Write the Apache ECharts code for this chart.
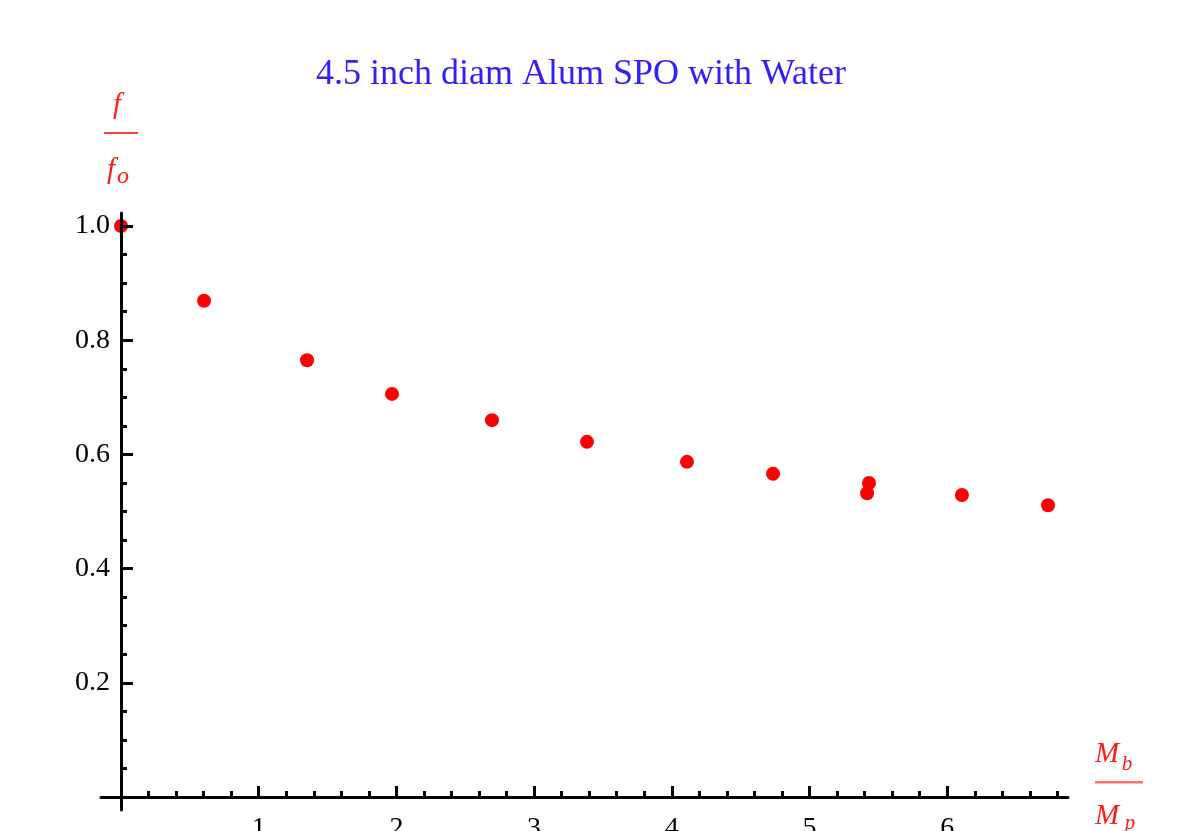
<!DOCTYPE html>
<html>
<head>
<meta charset="utf-8">
<script src="https://cdn.jsdelivr.net/npm/echarts@6/dist/echarts.min.js"></script>
<style>
  html, body { margin: 0; padding: 0; background: #fff; }
  #main { width: 1199px; height: 831px; }
</style>
</head>
<body>
<div id="main"></div>
<script>
// data: mass ratio Mb/Mp and frequency ratio f/fo
var massRatio = [0.0, 0.603, 1.351, 1.968, 2.694, 3.384, 4.110, 4.735, 5.432, 5.418, 6.107, 6.732];
var freqRatio = [1.0, 0.869, 0.765, 0.706, 0.660, 0.622, 0.587, 0.566, 0.550, 0.532, 0.529, 0.511];

// axis ticks
var xMajor = [1, 2, 3, 4, 5, 6];
var xMinor = [0.2, 0.4, 0.6, 0.8, 1.2, 1.4, 1.6, 1.8, 2.2, 2.4, 2.6, 2.8, 3.2, 3.4, 3.6, 3.8,
              4.2, 4.4, 4.6, 4.8, 5.2, 5.4, 5.6, 5.8, 6.2, 6.4, 6.6, 6.8];
var yMajor = [0.2, 0.4, 0.6, 0.8, 1.0];
var yMinor = [0.05, 0.1, 0.15, 0.25, 0.3, 0.35, 0.45, 0.5, 0.55, 0.65, 0.7, 0.75, 0.85, 0.9, 0.95];

var titleText = '4.5 inch diam Alum SPO with Water';

var serif = '"Liberation Serif", "Times New Roman", serif';
var red = '#ff1a1a';

var myChart = echarts.init(document.getElementById('main'));

var points = massRatio.map(function (x, i) { return [x, freqRatio[i]]; });

var xRange = { min: -0.1452, max: 6.877 };
var yRange = { min: -0.0228, max: 1.0228 };

function xAxisBase(ticks, len, withLine, withLabels) {
    return {
        type: 'value',
        min: xRange.min,
        max: xRange.max,
        position: 'bottom',
        z: 5,
        axisLine: {
            show: withLine,
            onZero: true,
            onZeroAxisIndex: 0,
            lineStyle: { color: '#000', width: 3 }
        },
        axisTick: {
            show: true,
            inside: true,
            length: len,
            customValues: ticks,
            lineStyle: { color: '#000', width: 3 }
        },
        axisLabel: {
            show: withLabels,
            customValues: ticks,
            margin: 5,
            color: '#000',
            fontFamily: serif,
            fontSize: 28,
            formatter: function (v) { return String(Math.round(v)); }
        },
        splitLine: { show: false }
    };
}

function yAxisBase(ticks, len, withLine, withLabels) {
    return {
        type: 'value',
        min: yRange.min,
        max: yRange.max,
        position: 'left',
        z: 5,
        axisLine: {
            show: withLine,
            onZero: true,
            onZeroAxisIndex: 0,
            lineStyle: { color: '#000', width: 3 }
        },
        axisTick: {
            show: true,
            inside: true,
            length: len,
            customValues: ticks,
            lineStyle: { color: '#000', width: 3 }
        },
        axisLabel: {
            show: withLabels,
            customValues: ticks,
            margin: -9,
            color: '#000',
            fontFamily: serif,
            fontSize: 28,
            padding: [0, 0, 6, 0],
            formatter: function (v) { return v.toFixed(1); }
        },
        splitLine: { show: false }
    };
}

var option = {
    animation: false,
    backgroundColor: '#fff',
    grid: {
        left: 101,
        top: 213,
        width: 967,
        height: 597,
        containLabel: false,
        outerBoundsMode: 'none'
    },
    xAxis: [
        xAxisBase(xMajor, 11, true, true),
        xAxisBase(xMinor, 6, false, false)
    ],
    yAxis: [
        yAxisBase(yMajor, 12, true, true),
        yAxisBase(yMinor, 6, false, false)
    ],
    graphic: [
        // title
        { type: 'text', x: 581, y: 75, style: { text: titleText, fill: '#3020ff', font: '36px ' + serif, textAlign: 'center', textVerticalAlign: 'middle' } },
        // y name  f / f_o
        { type: 'text', x: 117, y: 105, style: { text: 'f', fill: red, font: 'italic 29px ' + serif, textAlign: 'center', textVerticalAlign: 'middle' } },
        { type: 'rect', shape: { x: 104, y: 132, width: 34, height: 2 }, style: { fill: '#ff4040' } },
        { type: 'text', x: 111, y: 170, style: { text: 'f', fill: red, font: 'italic 29px ' + serif, textAlign: 'center', textVerticalAlign: 'middle' } },
        { type: 'text', x: 123, y: 177, style: { text: 'o', fill: red, font: 'italic 24px ' + serif, textAlign: 'center', textVerticalAlign: 'middle' } },
        // x name  M_b / M_p
        { type: 'text', x: 1107, y: 754, style: { text: 'M', fill: red, font: 'italic 29px ' + serif, textAlign: 'center', textVerticalAlign: 'middle' } },
        { type: 'text', x: 1127, y: 764, style: { text: 'b', fill: red, font: 'italic 21px ' + serif, textAlign: 'center', textVerticalAlign: 'middle' } },
        { type: 'rect', shape: { x: 1095, y: 781, width: 48, height: 2.5 }, style: { fill: '#ff7070' } },
        { type: 'text', x: 1107, y: 816, style: { text: 'M', fill: red, font: 'italic 29px ' + serif, textAlign: 'center', textVerticalAlign: 'middle' } },
        { type: 'text', x: 1130, y: 823, style: { text: 'p', fill: red, font: 'italic 21px ' + serif, textAlign: 'center', textVerticalAlign: 'middle' } }
    ],
    series: [{
        name: 'f/fo',
        type: 'scatter',
        xAxisIndex: 0,
        yAxisIndex: 0,
        z: 2,
        symbol: 'circle',
        symbolSize: 14,
        itemStyle: { color: '#ff0000', opacity: 1 },
        data: points
    }]
};

myChart.setOption(option);
</script>
</body>
</html>
